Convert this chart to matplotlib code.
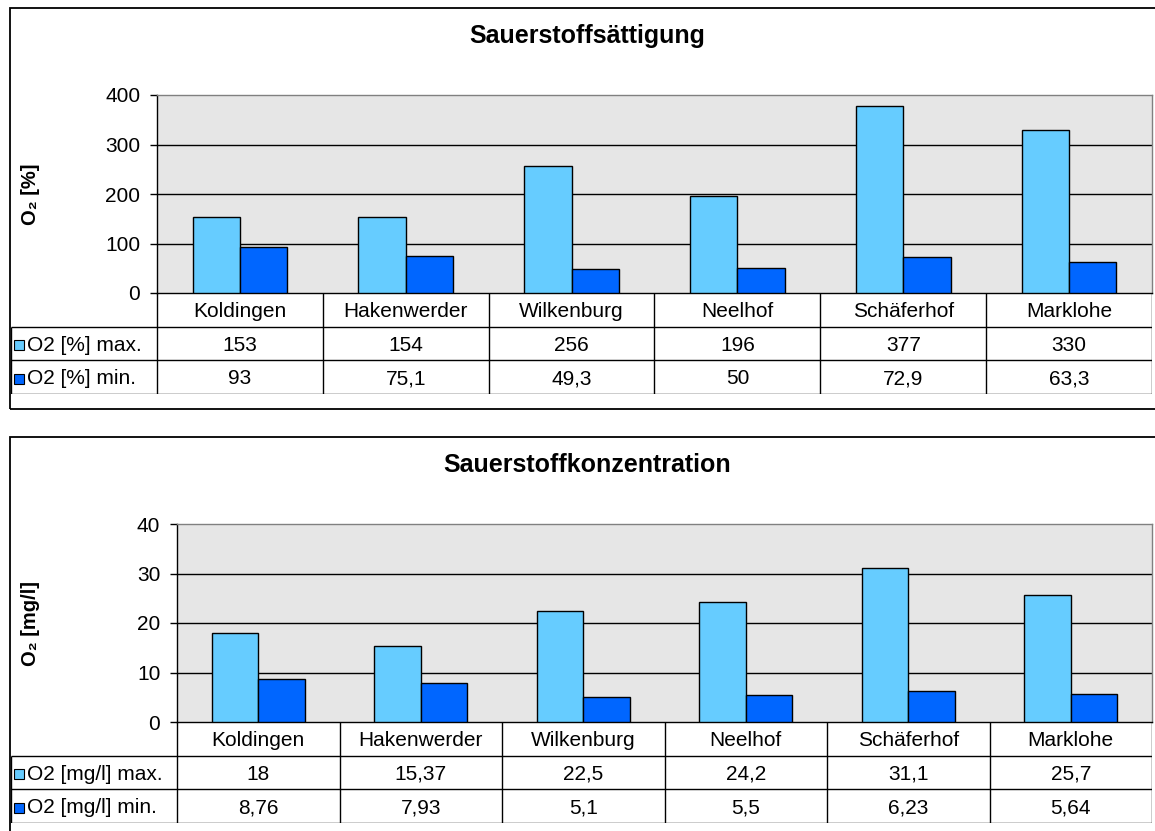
import matplotlib
matplotlib.use("Agg")
import matplotlib.pyplot as plt
from matplotlib.patches import Rectangle

plt.rcParams['font.family'] = ['Liberation Sans', 'DejaVu Sans']

W, H = 1155, 831

orte = ["Koldingen", "Hakenwerder", "Wilkenburg", "Neelhof", "Schäferhof", "Marklohe"]

# Sauerstoffsättigung in %
saett_max = [153, 154, 256, 196, 377, 330]
saett_min = [93, 75.1, 49.3, 50, 72.9, 63.3]

# Sauerstoffkonzentration in mg/l
konz_max = [18, 15.37, 22.5, 24.2, 31.1, 25.7]
konz_min = [8.76, 7.93, 5.1, 5.5, 6.23, 5.64]

HELL = "#66CCFF"
DUNKEL = "#0066FF"
FS = 15

fig = plt.figure(figsize=(W / 100, H / 100), dpi=100)


def px_axes(left, top, right, bottom):
    return fig.add_axes([left / W, 1 - bottom / H, (right - left) / W, (bottom - top) / H])


def fmt(v):
    return f"{v:g}".replace(".", ",")


def panel(frame_top, frame_bottom, plot_left, plot_top, plot_bottom, table_bottom,
          titel, ylabel, ymax, step, zeilen, werte_max, werte_min):
    # Rahmen um das Diagramm
    fig.patches.append(Rectangle((10 / W, 1 - frame_bottom / H), (W + 20) / W,
                                 (frame_bottom - frame_top) / H, transform=fig.transFigure,
                                 fill=False, edgecolor="black", linewidth=1.3))
    fig.text(587 / W, 1 - (frame_top + 35) / H, titel, ha="center", va="baseline",
             fontsize=18, fontweight="bold")

    right = 1152
    ax = px_axes(plot_left, plot_top, right, plot_bottom)
    x = list(range(len(orte)))
    bw = 1 / 3.5
    ax.bar([i - bw / 2 for i in x], werte_max, width=bw, color=HELL, edgecolor="black",
           linewidth=1, zorder=3)
    ax.bar([i + bw / 2 for i in x], werte_min, width=bw, color=DUNKEL, edgecolor="black",
           linewidth=1, zorder=3)
    ax.set_xlim(-0.5, len(orte) - 0.5)
    ax.set_ylim(0, ymax)
    ax.set_yticks(range(0, ymax + 1, step))
    ax.set_facecolor("#E6E6E6")
    for y in range(step, ymax, step):
        ax.axhline(y, color="black", linewidth=1, zorder=1)
    ax.set_xticks([])
    ax.tick_params(axis="y", direction="out", length=5, width=1, labelsize=FS, pad=7)
    ax.spines["left"].set_color("black")
    ax.spines["bottom"].set_color("black")
    ax.spines["top"].set_color("#808080")
    ax.spines["right"].set_color("#808080")
    for s in ax.spines.values():
        s.set_linewidth(1)

    fig.text(31 / W, 1 - (plot_top + plot_bottom) / 2 / H, ylabel, rotation=90,
             ha="center", va="center", fontsize=14.5, fontweight="bold")

    # Datentabelle unter dem Diagramm
    col_w = (right - plot_left) / len(orte)
    hw = (plot_left - 11) / col_w
    tax = px_axes(11, plot_bottom, right, table_bottom)
    tax.set_xlim(-0.5 - hw, len(orte) - 0.5)
    tax.set_ylim(3, 0)
    tax.axis("off")
    lw = 1
    tax.hlines([1, 2, 3], -0.5 - hw, len(orte) - 0.5, color="black", linewidth=lw)
    tax.vlines([i - 0.5 for i in range(len(orte) + 1)], 0, 3, color="black", linewidth=lw)
    tax.vlines([-0.5 - hw], 1, 3, color="black", linewidth=lw)
    for i, name in enumerate(orte):
        tax.text(i, 0.55, name, ha="center", va="center", fontsize=FS)
        tax.text(i, 1.55, fmt(werte_max[i]), ha="center", va="center", fontsize=FS)
        tax.text(i, 2.55, fmt(werte_min[i]), ha="center", va="center", fontsize=FS)
    for r, (label, farbe) in enumerate(zip(zeilen, [HELL, DUNKEL])):
        tax.plot([-0.5 - hw + 8 / col_w], [1.55 + r], marker="s", markersize=7.5,
                 markerfacecolor=farbe, markeredgecolor="black", markeredgewidth=0.8,
                 clip_on=False)
        tax.text(-0.5 - hw + 16 / col_w, 1.55 + r, label, ha="left", va="center",
                 fontsize=FS)


panel(8, 409, 157, 95, 293, 394, "Sauerstoffsättigung", "O₂ [%]", 400, 100,
      ["O2 [%] max.", "O2 [%] min."], saett_max, saett_min)
panel(437, 845, 177, 524, 722, 823, "Sauerstoffkonzentration", "O₂ [mg/l]", 40, 10,
      ["O2 [mg/l] max.", "O2 [mg/l] min."], konz_max, konz_min)

fig.savefig("out.png", dpi=100)
